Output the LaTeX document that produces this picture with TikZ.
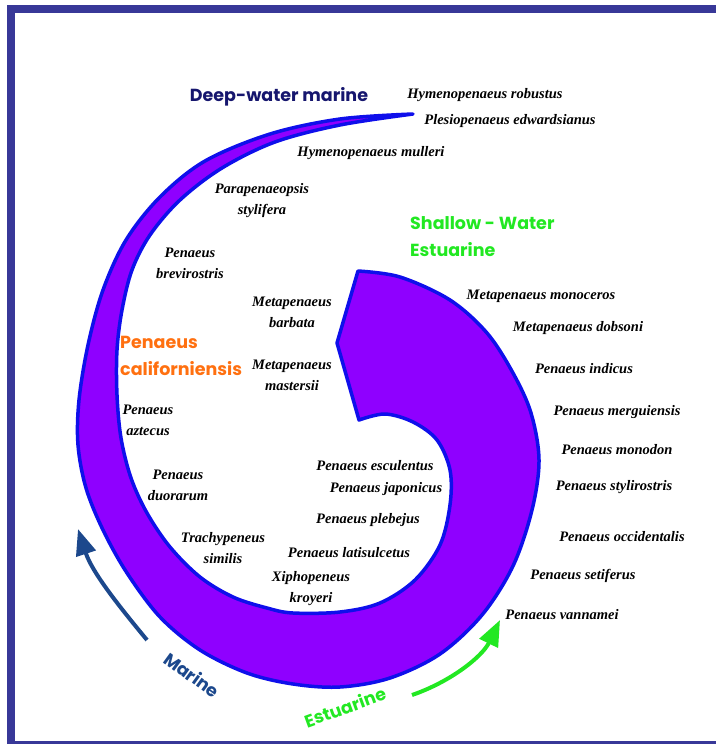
\documentclass[tikz,border=0pt]{standalone}
\usepackage{fontspec}
\setmainfont{Liberation Serif}
\newfontfamily\gothic{Poppins}
\usetikzlibrary{arrows.meta}

\definecolor{framecol}{RGB}{56,56,152}
\definecolor{bandfill}{RGB}{143,0,255}
\definecolor{bandedge}{RGB}{15,15,235}
\definecolor{deepcol}{RGB}{22,22,110}
\definecolor{marinecol}{RGB}{28,72,140}
\definecolor{shallowcol}{RGB}{34,232,34}
\definecolor{orangecol}{RGB}{255,112,16}

\tikzset{
  species/.style={font=\fontsize{14.5}{21}\selectfont\bfseries\itshape, align=center, inner sep=0pt},
  habitat/.style={font=\fontsize{17.5}{27}\selectfont\gothic\bfseries, inner sep=0pt},
  band/.style={fill=bandfill, draw=bandedge, line width=3.5pt, line join=round},
  trend/.style={line width=4pt, -{Triangle[length=26pt,width=20pt]}},
}

\begin{document}
\begin{tikzpicture}[x=1pt, y=-1pt]
  \useasboundingbox (0,0) rectangle (716,744);
  \fill[framecol] (7,5) rectangle (15,744);
  \fill[framecol] (7,5) rectangle (716,13);
  \fill[framecol] (7,741) rectangle (716,744);

  \draw[band] plot[smooth, tension=0.55] coordinates {
      (413,114) (340,119) (270,134) (205,161) (160,197) (126,240) (103,290)
      (88,345) (79,400) (78,445) (86,488) (103,530) (127,573) (160,617)
      (200,650) (247,673) (293,684) (340,687) (390,678) (440,654) (482,615)
      (513,566) (532,510) (539,460) (531,413) (513,373) (487,333) (450,300)
      (400,277) (358,271)}
    -- (337,343)
    -- plot[smooth, tension=0.55] coordinates {
      (359,420) (385,414) (413,422) (437,440) (450,470) (450,505) (440,545)
      (415,580) (380,603) (340,612) (293,613) (267,608) (233,597) (200,577)
      (170,547) (147,513) (131,478) (121,438) (117,395) (117,350) (122,310)
      (132,270) (150,235) (180,200) (222,168) (275,142) (340,125) (413,114)}
    -- cycle;

  \node[habitat, text=deepcol] (deep) at (279,97) {Deep-water marine};
  \node[habitat, text=shallowcol, align=left, anchor=west] (shallow) at (410,237) {Shallow - Water\\Estuarine};
  \node[habitat, text=orangecol, align=left, anchor=west] (calif) at (120,356) {Penaeus\\californiensis};

  \node[species] (robustus) at (485,95) {Hymenopenaeus robustus};
  \node[species] (edwards) at (510,121) {Plesiopenaeus edwardsianus};
  \node[species] (mulleri) at (371,153) {Hymenopenaeus mulleri};
  \node[species] (stylifera) at (262,201) {Parapenaeopsis\\stylifera};
  \node[species] (brevi) at (190,263) {Penaeus\\brevirostris};
  \node[species] (barbata) at (292,312) {Metapenaeus\\barbata};
  \node[species] (masters) at (292,375) {Metapenaeus\\mastersii};
  \node[species] (aztecus) at (148,420) {Penaeus\\aztecus};
  \node[species] (duorarum) at (178,485) {Penaeus\\duorarum};
  \node[species] (similis) at (223,548) {Trachypeneus\\similis};
  \node[species] (kroyeri) at (311,589) {Xiphopeneus\\kroyeri};

  \foreach \txt/\xx/\yy [count=\i] in {Penaeus esculentus/375/466, Penaeus japonicus/386/489,
      Penaeus plebejus/368/520, Penaeus latisulcetus/349/553}
    \node[species] (inner\i) at (\xx,\yy) {\txt};

  \foreach \txt/\xx/\yy [count=\i] in {Metapenaeus monoceros/541/296, Metapenaeus dobsoni/578/328,
      Penaeus indicus/584/369, Penaeus merguiensis/617/412, Penaeus monodon/617/450,
      Penaeus stylirostris/614/487, Penaeus occidentalis/622/537, Penaeus setiferus/583/576,
      Penaeus vannamei/562/615}
    \node[species] (outer\i) at (\xx,\yy) {\txt};

  \coordinate (marineTail) at (147,640);
  \coordinate (marineTip) at (78,529);
  \draw[trend, marinecol] (marineTail) .. controls (118,605) and (92,572) .. (marineTip);
  \node[habitat, text=marinecol, rotate=-36] (marine) at (192,675) {Marine};

  \coordinate (estTail) at (412,695);
  \coordinate (estTip) at (500,620);
  \draw[trend, shallowcol] (estTail) .. controls (450,682) and (482,657) .. (estTip);
  \node[habitat, text=shallowcol, rotate=20] (estuarine) at (345,707) {Estuarine};
\end{tikzpicture}
\end{document}
